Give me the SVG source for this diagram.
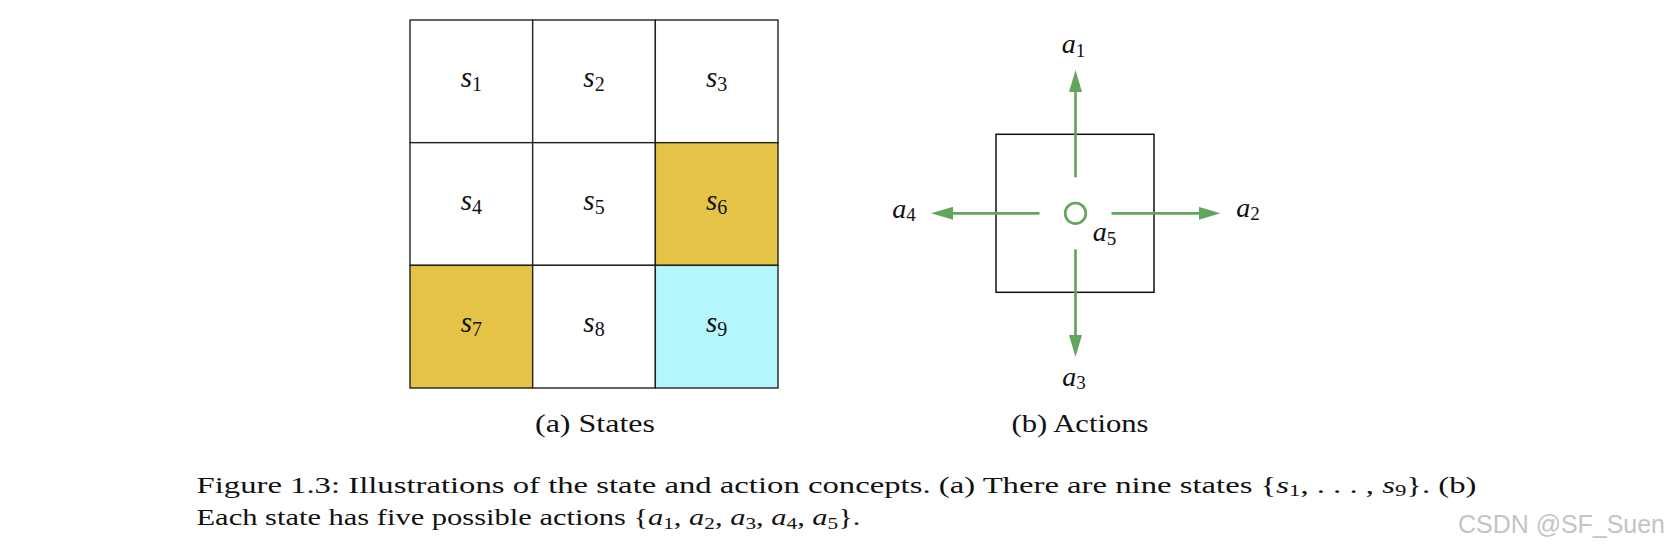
<svg xmlns="http://www.w3.org/2000/svg" width="1672" height="556" viewBox="0 0 1672 556">
<style>
.cell{stroke:#222;stroke-width:1.4}
.w{fill:#ffffff}.g{fill:#e5c347}.c{fill:#b4f6fb}
.lbl{font-family:"Liberation Serif",serif;font-size:29px;fill:#111;text-anchor:middle}
.it{font-style:italic}
.sub{font-size:20px;font-style:normal}
.arr{stroke:#62a55f;stroke-width:2.7;fill:none}
.cap{font-family:"Liberation Serif",serif;fill:#111}
.box{fill:none;stroke:#111;stroke-width:1.5}
</style>
<defs>
<marker id="head" markerUnits="userSpaceOnUse" markerWidth="22" markerHeight="13" viewBox="0 0 22 13" refX="0.5" refY="6.5" orient="auto">
<path d="M0,0 L22,6.5 L0,13 z" fill="#62a55f"/>
</marker>
</defs>
<rect width="1672" height="556" fill="#ffffff"/>
<g id="states">
<g id="s1"><rect class="cell w" x="410" y="20" width="122.67" height="122.67"/><text class="lbl" x="471.3" y="87"><tspan class="it">s</tspan><tspan class="sub" dy="4">1</tspan></text></g>
<g id="s2"><rect class="cell w" x="532.67" y="20" width="122.67" height="122.67"/><text class="lbl" x="594" y="87"><tspan class="it">s</tspan><tspan class="sub" dy="4">2</tspan></text></g>
<g id="s3"><rect class="cell w" x="655.33" y="20" width="122.67" height="122.67"/><text class="lbl" x="716.7" y="87"><tspan class="it">s</tspan><tspan class="sub" dy="4">3</tspan></text></g>
<g id="s4"><rect class="cell w" x="410" y="142.67" width="122.67" height="122.67"/><text class="lbl" x="471.3" y="209.7"><tspan class="it">s</tspan><tspan class="sub" dy="4">4</tspan></text></g>
<g id="s5"><rect class="cell w" x="532.67" y="142.67" width="122.67" height="122.67"/><text class="lbl" x="594" y="209.7"><tspan class="it">s</tspan><tspan class="sub" dy="4">5</tspan></text></g>
<g id="s6"><rect class="cell g" x="655.33" y="142.67" width="122.67" height="122.67"/><text class="lbl" x="716.7" y="209.7"><tspan class="it">s</tspan><tspan class="sub" dy="4">6</tspan></text></g>
<g id="s7"><rect class="cell g" x="410" y="265.33" width="122.67" height="122.67"/><text class="lbl" x="471.3" y="332.3"><tspan class="it">s</tspan><tspan class="sub" dy="4">7</tspan></text></g>
<g id="s8"><rect class="cell w" x="532.67" y="265.33" width="122.67" height="122.67"/><text class="lbl" x="594" y="332.3"><tspan class="it">s</tspan><tspan class="sub" dy="4">8</tspan></text></g>
<g id="s9"><rect class="cell c" x="655.33" y="265.33" width="122.67" height="122.67"/><text class="lbl" x="716.7" y="332.3"><tspan class="it">s</tspan><tspan class="sub" dy="4">9</tspan></text></g>
</g>
<g id="state-box"><rect class="box" x="996" y="134.3" width="158" height="158"/></g>
<g id="connectors">
<line class="arr" x1="1075.5" y1="177.3" x2="1075.5" y2="91.5" marker-end="url(#head)"/>
<line class="arr" x1="1111.5" y1="213.3" x2="1199" y2="213.3" marker-end="url(#head)"/>
<line class="arr" x1="1075.5" y1="249.3" x2="1075.5" y2="335.5" marker-end="url(#head)"/>
<line class="arr" x1="1039.5" y1="213.3" x2="952.5" y2="213.3" marker-end="url(#head)"/>
</g>
<g id="a5-stay"><circle class="arr" cx="1075.5" cy="213.3" r="10.3"/></g>
<g id="action-labels" style="font-size:28px">
<text id="a1" class="lbl" x="1073.5" y="53.3" style="font-size:28px"><tspan class="it">a</tspan><tspan class="sub" dy="3.5" style="font-size:19px">1</tspan></text>
<text id="a2" class="lbl" x="1248" y="216.7" style="font-size:28px"><tspan class="it">a</tspan><tspan class="sub" dy="3.5" style="font-size:19px">2</tspan></text>
<text id="a3" class="lbl" x="1074" y="385.7" style="font-size:28px"><tspan class="it">a</tspan><tspan class="sub" dy="3.5" style="font-size:19px">3</tspan></text>
<text id="a4" class="lbl" x="904" y="217.7" style="font-size:28px"><tspan class="it">a</tspan><tspan class="sub" dy="3.5" style="font-size:19px">4</tspan></text>
<text id="a5" class="lbl" x="1104.5" y="241" style="font-size:28px"><tspan class="it">a</tspan><tspan class="sub" dy="3.5" style="font-size:19px">5</tspan></text>
</g>
<g id="captions">
<text class="cap" x="535" y="432" font-size="25" textLength="120" lengthAdjust="spacingAndGlyphs">(a) States</text>
<text class="cap" x="1011.5" y="432" font-size="25" textLength="137" lengthAdjust="spacingAndGlyphs">(b) Actions</text>
<text class="cap" x="196.5" y="492.5" font-size="23" textLength="1280" lengthAdjust="spacingAndGlyphs">Figure 1.3:  Illustrations of the state and action concepts.  (a) There are nine states {<tspan font-style="italic">s</tspan><tspan font-size="16" dy="3.5">1</tspan><tspan dy="-3.5">, . . . , </tspan><tspan font-style="italic">s</tspan><tspan font-size="16" dy="3.5">9</tspan><tspan dy="-3.5">}.  (b)</tspan></text>
<text class="cap" x="196.5" y="525" font-size="23" textLength="664" lengthAdjust="spacingAndGlyphs">Each state has five possible actions {<tspan font-style="italic">a</tspan><tspan font-size="16" dy="3.5">1</tspan><tspan dy="-3.5">, </tspan><tspan font-style="italic">a</tspan><tspan font-size="16" dy="3.5">2</tspan><tspan dy="-3.5">, </tspan><tspan font-style="italic">a</tspan><tspan font-size="16" dy="3.5">3</tspan><tspan dy="-3.5">, </tspan><tspan font-style="italic">a</tspan><tspan font-size="16" dy="3.5">4</tspan><tspan dy="-3.5">, </tspan><tspan font-style="italic">a</tspan><tspan font-size="16" dy="3.5">5</tspan><tspan dy="-3.5">}.</tspan></text>
</g>
<text id="watermark" x="1458" y="533" font-family="Liberation Sans, sans-serif" font-size="26" fill="#c4c4c4" textLength="207" lengthAdjust="spacingAndGlyphs">CSDN @SF_Suen</text>
</svg>
